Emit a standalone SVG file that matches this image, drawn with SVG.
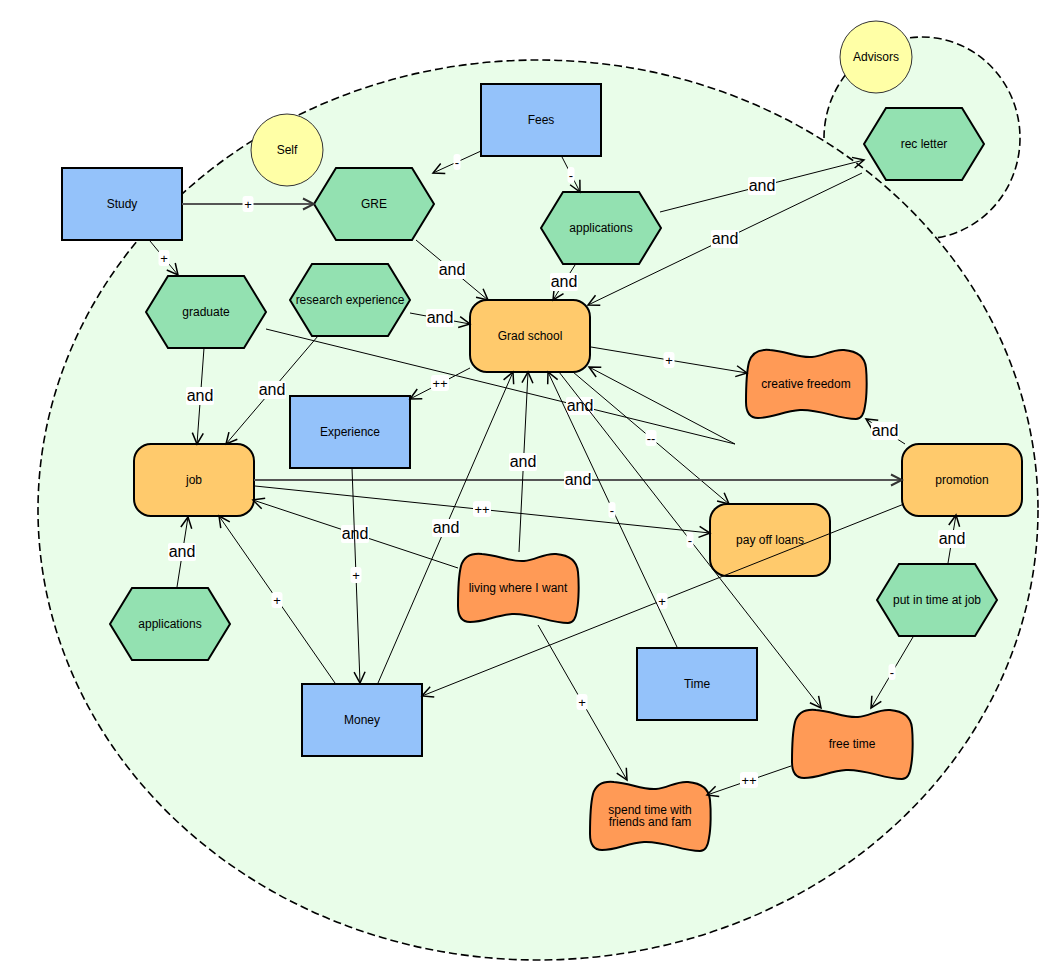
<svg xmlns="http://www.w3.org/2000/svg" xmlns:xlink="http://www.w3.org/1999/xlink" width="1054" height="974" viewBox="0 0 1054 974">
  <style>
    text { font-family: "Liberation Sans", Arial, Helvetica, sans-serif; fill: #000; text-anchor: middle; }
    .nt { font-size: 12px; }
    .zone { fill: #e9fde9; stroke: #000; stroke-width: 1.6; stroke-dasharray: 8 4; }
    .actor { fill: #ffffa6; stroke: #333; stroke-width: 1; }
    .res { fill: #94c2fa; stroke: #000; stroke-width: 2; }
    .task { fill: #93e1b1; stroke: #000; stroke-width: 2; }
    .goal { fill: #ffca6c; stroke: #000; stroke-width: 2; }
    .soft { fill: #ff9a56; stroke: #000; stroke-width: 2; }
    .ln { fill: none; stroke: #000; stroke-width: 1; marker-end: url(#arr); }
    .lnb { fill: none; stroke: #555; stroke-width: 2; marker-end: url(#arrb); }
    .bg { fill: #fff; }
    .lb { font-size: 16px; }
    .ls { font-size: 13px; }
  </style>
  <defs>
    <marker id="arr" viewBox="-12 -8 14 16" refX="0" refY="0" markerWidth="14" markerHeight="16" markerUnits="userSpaceOnUse" orient="auto">
      <path d="M-11,-5.5 L0,0 L-11,5.5" fill="none" stroke="#000" stroke-width="1.5"/>
    </marker>
    <marker id="arrb" viewBox="-12 -8 14 16" refX="0" refY="0" markerWidth="14" markerHeight="16" markerUnits="userSpaceOnUse" orient="auto">
      <path d="M-11,-5.5 L0,0 L-11,5.5" fill="none" stroke="#333" stroke-width="2"/>
    </marker>
    <polygon id="hex" points="0,36 22,0 98,0 120,36 98,72 22,72"/>
    <path id="blob" d="M3,14 C6,4 14,1 24,2 C40,3 52,10 66,9 C78,8 86,1 98,2 C110,3 119,8 120,20 C121,30 121,48 119,58 C118,66 116,71 110,71 C92,71 74,61 54,62 C38,63 26,70 12,70 C4,70 0,64 0,54 C0,40 0,26 3,14 Z"/>
  </defs>

  <!-- actor boundaries -->
  <g id="advisors-boundary">
    <ellipse class="zone" cx="922" cy="138" rx="98" ry="101"/>
  </g>
  <g id="self-boundary">
    <ellipse class="zone" cx="538" cy="510" rx="500" ry="450"/>
  </g>

  <!-- actors -->
  <g id="self">
    <circle class="actor" cx="287" cy="150" r="36"/>
    <text class="nt" x="287" y="154">Self</text>
  </g>
  <g id="advisors">
    <circle class="actor" cx="876" cy="57" r="36"/>
    <text class="nt" x="876" y="61">Advisors</text>
  </g>

  <!-- resources -->
  <g id="study">
    <rect class="res" x="62" y="168" width="120" height="72"/>
    <text class="nt" x="122" y="208">Study</text>
  </g>
  <g id="fees">
    <rect class="res" x="481" y="84" width="120" height="72"/>
    <text class="nt" x="541" y="124">Fees</text>
  </g>
  <g id="experience">
    <rect class="res" x="290" y="396" width="120" height="72"/>
    <text class="nt" x="350" y="436">Experience</text>
  </g>
  <g id="time">
    <rect class="res" x="637" y="648" width="120" height="72"/>
    <text class="nt" x="697" y="688">Time</text>
  </g>
  <g id="money">
    <rect class="res" x="302" y="684" width="120" height="72"/>
    <text class="nt" x="362" y="724">Money</text>
  </g>

  <!-- tasks -->
  <g id="gre">
    <use href="#hex" class="task" x="314" y="168"/>
    <text class="nt" x="374" y="208">GRE</text>
  </g>
  <g id="applications-grad">
    <use href="#hex" class="task" x="541" y="192"/>
    <text class="nt" x="601" y="232">applications</text>
  </g>
  <g id="rec-letter">
    <use href="#hex" class="task" x="864" y="108"/>
    <text class="nt" x="924" y="148">rec letter</text>
  </g>
  <g id="graduate">
    <use href="#hex" class="task" x="146" y="276"/>
    <text class="nt" x="206" y="316">graduate</text>
  </g>
  <g id="research-experience">
    <use href="#hex" class="task" x="290" y="264"/>
    <text class="nt" x="350" y="304">research experience</text>
  </g>
  <g id="applications-job">
    <use href="#hex" class="task" x="110" y="588"/>
    <text class="nt" x="170" y="628">applications</text>
  </g>
  <g id="put-in-time">
    <use href="#hex" class="task" x="877" y="564"/>
    <text class="nt" x="937" y="604">put in time at job</text>
  </g>

  <!-- goals -->
  <g id="grad-school">
    <rect class="goal" x="470" y="300" width="120" height="72" rx="17"/>
    <text class="nt" x="530" y="340">Grad school</text>
  </g>
  <g id="job">
    <rect class="goal" x="134" y="444" width="120" height="72" rx="17"/>
    <text class="nt" x="194" y="484">job</text>
  </g>
  <g id="promotion">
    <rect class="goal" x="902" y="444" width="120" height="72" rx="17"/>
    <text class="nt" x="962" y="484">promotion</text>
  </g>
  <g id="pay-off-loans">
    <rect class="goal" x="710" y="504" width="120" height="72" rx="17"/>
    <text class="nt" x="770" y="544">pay off loans</text>
  </g>

  <!-- softgoals -->
  <g id="creative-freedom">
    <use href="#blob" class="soft" x="746" y="348"/>
    <text class="nt" x="806" y="388">creative freedom</text>
  </g>
  <g id="living-where-i-want">
    <use href="#blob" class="soft" x="458" y="552"/>
    <text class="nt" x="518" y="592">living where I want</text>
  </g>
  <g id="free-time">
    <use href="#blob" class="soft" x="792" y="708"/>
    <text class="nt" x="852" y="748">free time</text>
  </g>
  <g id="spend-time">
    <use href="#blob" class="soft" x="590" y="780"/>
    <text class="nt" x="650" y="814">spend time with</text>
    <text class="nt" x="650" y="826">friends and fam</text>
  </g>

  <!-- links -->
  <g id="connectors">
    <path class="lnb" d="M182,204 L314,204"/>
    <rect class="bg" x="242.5" y="196" width="11" height="16" rx="3"/>
    <text class="ls" x="248" y="208.5">+</text>

    <path class="ln" d="M150,241 L178,275"/>
    <rect class="bg" x="158.5" y="250" width="11" height="16" rx="3"/>
    <text class="ls" x="164" y="262.5">+</text>

    <path class="ln" d="M481,151 L433,173"/>
    <rect class="bg" x="453.5" y="154" width="7" height="16" rx="3"/>
    <text class="ls" x="457" y="166.5">-</text>

    <path class="ln" d="M562,157 L580,192"/>
    <rect class="bg" x="567.5" y="167" width="7" height="16" rx="3"/>
    <text class="ls" x="571" y="179.5">-</text>

    <path class="ln" d="M660,212 L864,160"/>
    <rect class="bg" x="748" y="177" width="28" height="18" rx="2"/>
    <text class="lb" x="762" y="191">and</text>

    <path class="ln" d="M862,173 L588,305"/>
    <rect class="bg" x="711" y="230" width="28" height="18" rx="2"/>
    <text class="lb" x="725" y="244">and</text>

    <path class="ln" d="M575,265 L553,300"/>
    <rect class="bg" x="550" y="273" width="28" height="18" rx="2"/>
    <text class="lb" x="564" y="287">and</text>

    <path class="ln" d="M416,240 L488,300"/>
    <rect class="bg" x="438" y="261" width="28" height="18" rx="2"/>
    <text class="lb" x="452" y="275">and</text>

    <path class="ln" d="M410,313 L470,324"/>
    <rect class="bg" x="426" y="309" width="28" height="18" rx="2"/>
    <text class="lb" x="440" y="323">and</text>

    <path class="ln" d="M204,348 L197,444"/>
    <rect class="bg" x="186" y="387" width="28" height="18" rx="2"/>
    <text class="lb" x="200" y="401">and</text>

    <path class="ln" d="M318,336 L226,444"/>
    <rect class="bg" x="258" y="381" width="28" height="18" rx="2"/>
    <text class="lb" x="272" y="395">and</text>

    <path class="ln" d="M177,587 L188,517"/>
    <rect class="bg" x="168" y="543" width="28" height="18" rx="2"/>
    <text class="lb" x="182" y="557">and</text>

    <path class="ln" d="M470,368 L410,399"/>
    <rect class="bg" x="431" y="375" width="18" height="16" rx="3"/>
    <text class="ls" x="440" y="387.5">++</text>

    <path class="ln" d="M591,347 L747,373"/>
    <rect class="bg" x="663.5" y="352" width="11" height="16" rx="3"/>
    <text class="ls" x="669" y="364.5">+</text>

    <path class="ln" d="M266,329 L735,444 L589,367"/>
    <rect class="bg" x="566" y="397" width="28" height="18" rx="2"/>
    <text class="lb" x="580" y="411">and</text>

    <path class="ln" d="M573,372 L729,504"/>
    <rect class="bg" x="645.5" y="430" width="11" height="16" rx="3"/>
    <text class="ls" x="651" y="442.5">--</text>

    <path class="lnb" d="M254,480 L902,480"/>
    <rect class="bg" x="564" y="471" width="28" height="18" rx="2"/>
    <text class="lb" x="578" y="485">and</text>

    <path class="ln" d="M255,486 L710,533"/>
    <rect class="bg" x="473" y="501" width="18" height="16" rx="3"/>
    <text class="ls" x="482" y="513.5">++</text>

    <path class="ln" d="M905,444 L866,419"/>
    <rect class="bg" x="871" y="422" width="28" height="18" rx="2"/>
    <text class="lb" x="885" y="436">and</text>

    <path class="ln" d="M948,563 L956,515"/>
    <rect class="bg" x="938" y="530" width="28" height="18" rx="2"/>
    <text class="lb" x="952" y="544">and</text>

    <path class="ln" d="M913,637 L871,708"/>
    <rect class="bg" x="888.5" y="664" width="7" height="16" rx="3"/>
    <text class="ls" x="892" y="676.5">-</text>

    <path class="ln" d="M791,766 L707,795"/>
    <rect class="bg" x="740" y="772" width="18" height="16" rx="3"/>
    <text class="ls" x="749" y="784.5">++</text>

    <path class="ln" d="M538,625 L627,780"/>
    <rect class="bg" x="576.5" y="694" width="11" height="16" rx="3"/>
    <text class="ls" x="582" y="706.5">+</text>

    <path class="ln" d="M559,372 L821,708"/>
    <rect class="bg" x="686.5" y="532" width="7" height="16" rx="3"/>
    <text class="ls" x="690" y="544.5">-</text>

    <path class="ln" d="M904,504 L422,696"/>
    <rect class="bg" x="656.5" y="593" width="11" height="16" rx="3"/>
    <text class="ls" x="662" y="605.5">+</text>

    <path class="ln" d="M677,647 L548,372"/>
    <rect class="bg" x="608.5" y="502" width="7" height="16" rx="3"/>
    <text class="ls" x="612" y="514.5">-</text>

    <path class="ln" d="M378,683 L513,372"/>
    <rect class="bg" x="432" y="519" width="28" height="18" rx="2"/>
    <text class="lb" x="446" y="533">and</text>

    <path class="ln" d="M519,552 L528,372"/>
    <rect class="bg" x="509" y="453" width="28" height="18" rx="2"/>
    <text class="lb" x="523" y="467">and</text>

    <path class="ln" d="M458,568 L253,500"/>
    <rect class="bg" x="341" y="525" width="28" height="18" rx="2"/>
    <text class="lb" x="355" y="539">and</text>

    <path class="ln" d="M335,683 L219,516"/>
    <rect class="bg" x="271.5" y="592" width="11" height="16" rx="3"/>
    <text class="ls" x="277" y="604.5">+</text>

    <path class="ln" d="M352,468 L360,683"/>
    <rect class="bg" x="350.5" y="567" width="11" height="16" rx="3"/>
    <text class="ls" x="356" y="579.5">+</text>
  </g>
</svg>
